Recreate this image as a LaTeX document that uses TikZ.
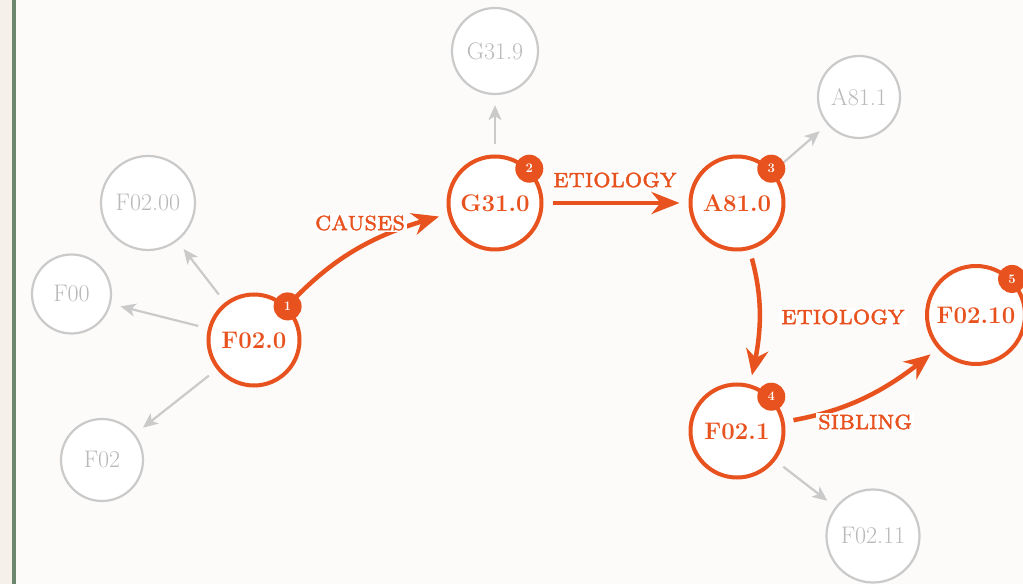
\documentclass[tikz,border=0pt]{standalone}
\usepackage{fontspec}
\newfontfamily\lblfont{lmromancaps10-regular.otf}[FakeBold=1.5]
\usetikzlibrary{arrows.meta,bending}
\definecolor{acc}{RGB}{232,82,30}
\definecolor{gc}{RGB}{202,202,202}
\definecolor{gt}{RGB}{185,185,185}
\definecolor{bgmain}{RGB}{252,251,249}
\definecolor{bgstrip}{RGB}{245,241,234}
\definecolor{rule}{RGB}{107,135,110}
\tikzset{
  mainnode/.style={circle, draw=acc, line width=4pt, fill=white, inner sep=0pt, text=acc, font=\fontsize{24}{28}\selectfont\bfseries},
  ghost/.style={circle, draw=gc, line width=2.2pt, fill=white, inner sep=0pt, text=gt, font=\fontsize{24}{28}\selectfont},
  badge/.style={circle, fill=acc, inner sep=0pt, minimum size=28pt, text=white, font=\fontsize{13}{14}\selectfont\bfseries},
  oarrow/.style={draw=acc, line width=4.5pt, -{Stealth[length=28pt,width=22pt,inset=9pt,bend]}, shorten <=9pt, shorten >=9pt},
  garrow/.style={draw=gc, line width=2.2pt, -{Stealth[length=15pt,width=13pt,inset=4pt]}, shorten <=10pt, shorten >=10pt},
  lbl/.style={fill=white, inner sep=2pt, text=acc, font=\fontsize{27.5}{30}\lblfont}
}
\begin{document}
\begin{tikzpicture}[x=1pt,y=1pt]
\useasboundingbox (0,0) rectangle (1023,584);
\fill[bgmain] (0,0) rectangle (1023,584);
\fill[bgstrip] (0,0) rectangle (12,584);
\fill[rule] (12,0) rectangle (15.5,584);

% main nodes
\node[mainnode, minimum size=91pt] (F020) at (254,244) {F02.0};
\node[mainnode, minimum size=93pt] (G310) at (495,381) {G31.0};
\node[mainnode, minimum size=93pt] (A810) at (737,381) {A81.0};
\node[mainnode, minimum size=93pt] (F021) at (737,153) {F02.1};
\node[mainnode, minimum size=98pt] (F0210) at (976,269) {F02.10};

% ghost nodes
\node[ghost, minimum size=86pt] (G319) at (495,533) {G31.9};
\node[ghost, minimum size=82pt] (A811) at (859,487) {A81.1};
\node[ghost, minimum size=94pt] (F0200) at (148,381) {F02.00};
\node[ghost, minimum size=79pt] (F00) at (71.5,290) {F00};
\node[ghost, minimum size=82pt] (F02) at (102,124) {F02};
\node[ghost, minimum size=93pt] (F0211) at (873,48) {F02.11};

% grey connectors
\draw[garrow] (G310) -- (G319);
\draw[garrow] (A810) -- (A811);
\draw[garrow] (F020) -- (F0200);
\draw[garrow] (F020) -- (F00);
\draw[garrow] (F020) -- (F02);
\draw[garrow] (F021) -- (F0211);

% orange connectors
\draw[oarrow] (F020) to[bend left=16] (G310);
\draw[oarrow] (G310) -- (A810);
\draw[oarrow] (A810) to[bend left=15] (F021);
\draw[oarrow] (F021) to[bend right=15] (F0210);

% badges
\node[badge] (b1) at (F020.45) {1};
\node[badge] (b2) at (G310.45) {2};
\node[badge] (b3) at (A810.45) {3};
\node[badge] (b4) at (F021.45) {4};
\node[badge] (b5) at (F0210.45) {5};

% labels
\node[lbl] (l1) at (360,361) {causes};
\node[lbl] (l2) at (615,404) {etiology};
\node[lbl] (l3) at (843,267) {etiology};
\node[lbl] (l4) at (865,162) {sibling};
\end{tikzpicture}
\end{document}
